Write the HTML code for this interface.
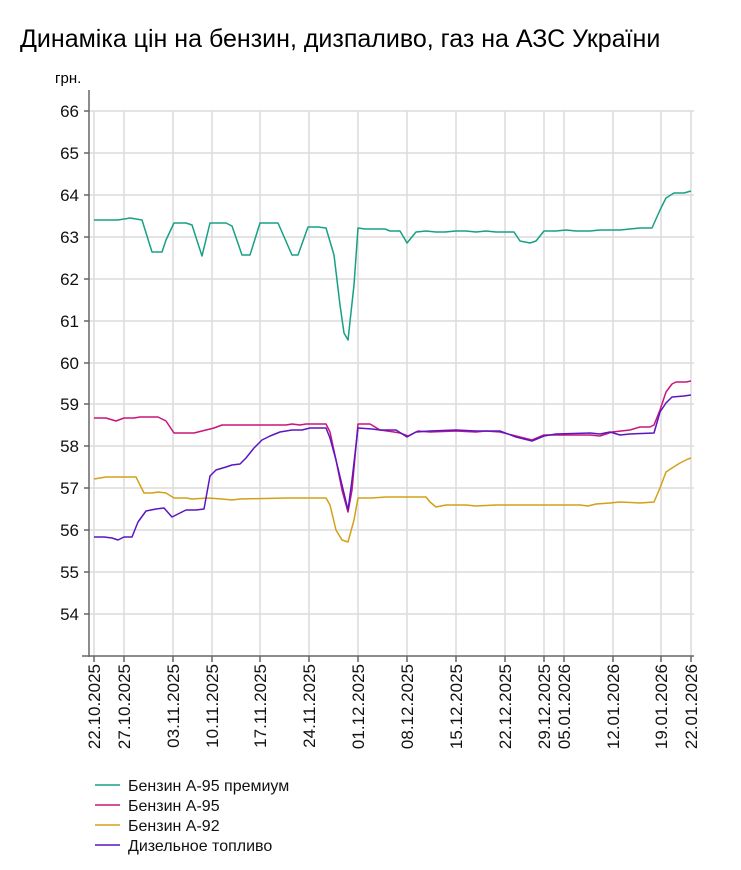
<!DOCTYPE html>
<html><head><meta charset="utf-8"><style>
body{margin:0;background:#fff;}
svg{display:block;font-family:"Liberation Sans",sans-serif;}
</style></head><body>
<svg width="741" height="870" viewBox="0 0 741 870">
<text x="20" y="47" font-size="25" fill="#000">Динаміка цін на бензин, дизпаливо, газ на АЗС України</text>
<text x="55" y="83" font-size="15" fill="#000">грн.</text>
<g stroke="#dcdcdc" stroke-width="1.5">
<line x1="89" x2="694" y1="111" y2="111"/><line x1="89" x2="694" y1="153" y2="153"/><line x1="89" x2="694" y1="195" y2="195"/><line x1="89" x2="694" y1="237" y2="237"/><line x1="89" x2="694" y1="279" y2="279"/><line x1="89" x2="694" y1="321" y2="321"/><line x1="89" x2="694" y1="363" y2="363"/><line x1="89" x2="694" y1="404" y2="404"/><line x1="89" x2="694" y1="446" y2="446"/><line x1="89" x2="694" y1="488" y2="488"/><line x1="89" x2="694" y1="530" y2="530"/><line x1="89" x2="694" y1="572" y2="572"/><line x1="89" x2="694" y1="614" y2="614"/>
<line x1="94" x2="94" y1="111" y2="656"/><line x1="124" x2="124" y1="111" y2="656"/><line x1="173" x2="173" y1="111" y2="656"/><line x1="212" x2="212" y1="111" y2="656"/><line x1="260" x2="260" y1="111" y2="656"/><line x1="309" x2="309" y1="111" y2="656"/><line x1="358" x2="358" y1="111" y2="656"/><line x1="407" x2="407" y1="111" y2="656"/><line x1="456" x2="456" y1="111" y2="656"/><line x1="505" x2="505" y1="111" y2="656"/><line x1="544" x2="544" y1="111" y2="656"/><line x1="564" x2="564" y1="111" y2="656"/><line x1="613" x2="613" y1="111" y2="656"/><line x1="661" x2="661" y1="111" y2="656"/><line x1="691" x2="691" y1="111" y2="656"/>
</g>
<g stroke="#666" stroke-width="1.5">
<line x1="89" x2="89" y1="90" y2="657"/><line x1="82" x2="694" y1="656" y2="656"/>
<line x1="84" x2="89" y1="111" y2="111"/><line x1="84" x2="89" y1="153" y2="153"/><line x1="84" x2="89" y1="195" y2="195"/><line x1="84" x2="89" y1="237" y2="237"/><line x1="84" x2="89" y1="279" y2="279"/><line x1="84" x2="89" y1="321" y2="321"/><line x1="84" x2="89" y1="363" y2="363"/><line x1="84" x2="89" y1="404" y2="404"/><line x1="84" x2="89" y1="446" y2="446"/><line x1="84" x2="89" y1="488" y2="488"/><line x1="84" x2="89" y1="530" y2="530"/><line x1="84" x2="89" y1="572" y2="572"/><line x1="84" x2="89" y1="614" y2="614"/>
<line x1="94" x2="94" y1="656" y2="662"/><line x1="124" x2="124" y1="656" y2="662"/><line x1="173" x2="173" y1="656" y2="662"/><line x1="212" x2="212" y1="656" y2="662"/><line x1="260" x2="260" y1="656" y2="662"/><line x1="309" x2="309" y1="656" y2="662"/><line x1="358" x2="358" y1="656" y2="662"/><line x1="407" x2="407" y1="656" y2="662"/><line x1="456" x2="456" y1="656" y2="662"/><line x1="505" x2="505" y1="656" y2="662"/><line x1="544" x2="544" y1="656" y2="662"/><line x1="564" x2="564" y1="656" y2="662"/><line x1="613" x2="613" y1="656" y2="662"/><line x1="661" x2="661" y1="656" y2="662"/><line x1="691" x2="691" y1="656" y2="662"/>
</g>
<g font-size="17" fill="#111" text-anchor="end">
<text x="79" y="117">66</text><text x="79" y="159">65</text><text x="79" y="201">64</text><text x="79" y="243">63</text><text x="79" y="285">62</text><text x="79" y="327">61</text><text x="79" y="369">60</text><text x="79" y="410">59</text><text x="79" y="452">58</text><text x="79" y="494">57</text><text x="79" y="536">56</text><text x="79" y="578">55</text><text x="79" y="620">54</text>
</g>
<g font-size="17" fill="#111" text-anchor="end">
<text transform="translate(100,664) rotate(-90)">22.10.2025</text>
<text transform="translate(130,664) rotate(-90)">27.10.2025</text>
<text transform="translate(179,664) rotate(-90)">03.11.2025</text>
<text transform="translate(218,664) rotate(-90)">10.11.2025</text>
<text transform="translate(266,664) rotate(-90)">17.11.2025</text>
<text transform="translate(315,664) rotate(-90)">24.11.2025</text>
<text transform="translate(364,664) rotate(-90)">01.12.2025</text>
<text transform="translate(413,664) rotate(-90)">08.12.2025</text>
<text transform="translate(462,664) rotate(-90)">15.12.2025</text>
<text transform="translate(511,664) rotate(-90)">22.12.2025</text>
<text transform="translate(550,664) rotate(-90)">29.12.2025</text>
<text transform="translate(570,664) rotate(-90)">05.01.2026</text>
<text transform="translate(619,664) rotate(-90)">12.01.2026</text>
<text transform="translate(667,664) rotate(-90)">19.01.2026</text>
<text transform="translate(697,664) rotate(-90)">22.01.2026</text>
</g>
<g fill="none" stroke-width="1.5" stroke-linejoin="round">
<polyline stroke="#d4a017" points="94,479 100,478 106,477 136,477 144,493 152,493 158,492 166,493 174,498 186,498 192,499 208,498 222,499 232,500 240,499 286,498 310,498 326,498 330,505 336,530 342,540 348,542 354,520 358,498 372,498 386,497 426,497 430,502 436,507 446,505 466,505 476,506 496,505 556,505 580,505 588,506 596,504 610,503 620,502 640,503 654,502 660,488 666,472 672,468 680,463 688,459 691,458"/>
<polyline stroke="#c8157a" points="94,418 106,418 116,421 124,418 134,418 140,417 158,417 166,421 174,433 194,433 206,430 214,428 222,425 240,425 286,425 292,424 300,425 306,424 326,424 330,432 336,460 342,490 348,512 352,490 358,424 370,424 380,430 394,432 400,433 408,436 418,431 430,432 456,431 476,432 486,431 500,432 520,437 532,440 544,435 556,435 590,435 600,436 612,432 630,430 640,427 650,427 654,425 660,410 666,392 672,384 676,382 686,382 691,381"/>
<polyline stroke="#5b16c2" points="94,537 104,537 112,538 118,540 124,537 132,537 138,522 146,511 156,509 164,508 172,517 178,514 186,510 196,510 204,509 210,476 216,470 226,467 232,465 240,464 246,458 254,448 262,440 270,436 280,432 292,430 302,430 310,428 326,428 330,438 336,460 342,485 348,510 352,480 358,428 372,429 380,430 396,430 407,437 416,432 430,431 456,430 476,431 500,431 516,437 532,441 544,436 556,434 590,433 600,434 610,432 620,435 630,434 654,433 660,412 666,403 672,397 684,396 691,395"/>
<polyline stroke="#17a085" points="94,220 118,220 130,218 142,220 152,252 162,252 166,240 174,223 186,223 192,225 202,256 210,223 226,223 232,226 242,255 250,255 260,223 278,223 292,255 298,255 308,227 318,227 326,228 334,255 340,305 344,333 348,340 354,285 358,228 365,229 372,229 385,229 390,231 400,231 407,243 416,232 426,231 436,232 445,232 456,231 466,231 476,232 486,231 496,232 514,232 520,241 530,243 536,241 544,231 556,231 566,230 576,231 590,231 600,230 620,230 640,228 652,228 660,210 666,198 674,193 684,193 691,191"/>
</g>
<g stroke-width="1.5">
<line x1="95" x2="120" y1="785" y2="785" stroke="#17a085"/>
<line x1="95" x2="120" y1="805" y2="805" stroke="#c8157a"/>
<line x1="95" x2="120" y1="825" y2="825" stroke="#d4a017"/>
<line x1="95" x2="120" y1="845" y2="845" stroke="#5b16c2"/>
</g>
<g font-size="16" fill="#111">
<text x="128" y="791">Бензин А-95 премиум</text>
<text x="128" y="811">Бензин А-95</text>
<text x="128" y="831">Бензин А-92</text>
<text x="128" y="851">Дизельное топливо</text>
</g>
</svg>
</body></html>
